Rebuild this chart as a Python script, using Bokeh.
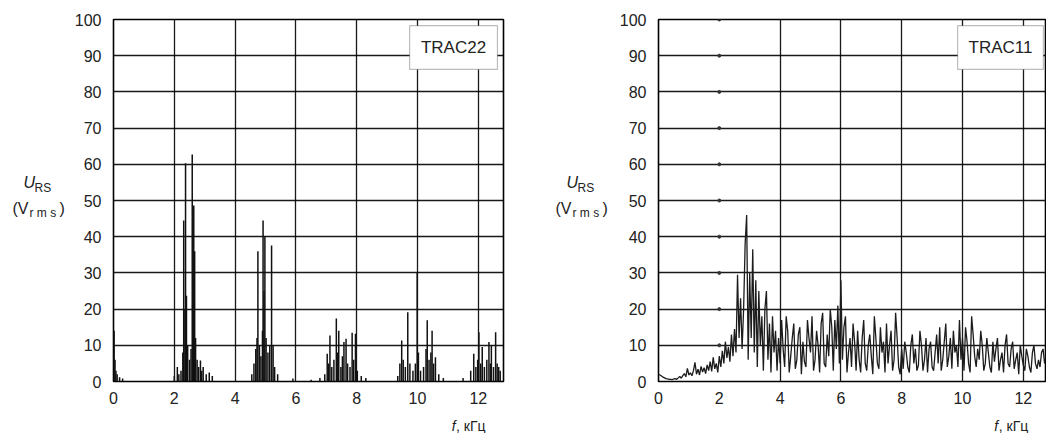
from bokeh.plotting import figure
from bokeh.layouts import row, column
from bokeh.models import Range1d, FixedTicker, Label, BoxAnnotation
from bokeh.core.properties import value
from bokeh.embed import file_html
from bokeh.resources import INLINE

# ---------------- data ----------------
x_ticks = [0, 2, 4, 6, 8, 10, 12]
y_ticks = [0, 10, 20, 30, 40, 50, 60, 70, 80, 90, 100]

# TRAC22: discrete spectral lines (frequency kHz, amplitude V rms)
l_freq = [0.02, 0.05, 0.08, 0.12, 0.20, 0.30,
          2.00, 2.10, 2.15, 2.22, 2.28, 2.31, 2.35, 2.37, 2.40, 2.44, 2.50, 2.55, 2.59, 2.62,
          2.64, 2.67, 2.70, 2.75, 2.80, 2.86, 2.90, 2.95, 3.05, 3.15, 3.25,
          4.55, 4.62, 4.68, 4.72, 4.75, 4.80, 4.85, 4.90, 4.92, 4.95, 4.98, 5.02, 5.08, 5.14,
          5.20, 5.25, 5.30, 5.40,
          5.90, 6.50, 6.79,
          6.95, 7.03, 7.08, 7.12, 7.18, 7.25, 7.33, 7.37, 7.41, 7.48, 7.53, 7.58, 7.65, 7.70,
          7.78, 7.85, 7.90, 7.96, 8.02, 8.15, 8.30,
          9.35, 9.42, 9.48, 9.53, 9.60, 9.68, 9.75, 9.85, 9.93, 9.99, 10.03, 10.10, 10.20,
          10.28, 10.32, 10.38, 10.44, 10.48, 10.53, 10.59, 10.70, 10.85,
          11.50, 11.75, 11.85, 11.92, 11.98, 12.02, 12.08, 12.13, 12.20, 12.28, 12.35, 12.40,
          12.43, 12.50, 12.57, 12.62, 12.67, 12.72]
l_amp = [14.0, 6.0, 3.0, 2.0, 1.2, 0.8,
         1.5, 4.0, 2.0, 3.0, 8.0, 44.5, 20.0, 60.3, 23.7, 10.0, 6.0, 9.0, 62.7, 30.0,
         48.6, 36.0, 12.0, 6.0, 4.0, 5.8, 3.0, 4.0, 2.0, 2.5, 1.5,
         2.0, 5.0, 9.0, 12.0, 36.0, 10.0, 7.0, 14.0, 44.5, 25.0, 40.0, 12.0, 8.0, 10.0,
         37.6, 10.0, 4.0, 2.0,
         0.8, 0.5, 1.0,
         2.0, 7.7, 5.0, 12.7, 4.0, 6.0, 17.4, 8.0, 14.0, 4.0, 7.0, 10.9, 11.8, 5.0,
         4.0, 13.5, 6.0, 13.2, 3.0, 1.5, 1.0,
         1.5, 5.0, 11.3, 6.0, 4.0, 19.1, 5.0, 3.0, 5.0, 30.2, 8.0, 3.0, 4.0,
         9.0, 16.9, 6.0, 8.0, 14.0, 5.0, 6.7, 2.0, 1.0,
         1.0, 3.0, 7.7, 4.0, 6.0, 13.6, 5.0, 9.5, 4.0, 6.0, 10.9, 5.0,
         10.0, 4.0, 13.6, 5.0, 4.0, 3.0]

# TRAC11: continuous noisy spectrum, sampled every 0.05 kHz from 0 kHz
r_step = 0.05
r_amp = [2.0, 1.8, 1.5, 1.2, 1.0, 0.8, 0.7, 0.6, 0.6, 0.5, 0.7,
         0.8, 0.6, 1.0, 1.4, 0.9, 1.6, 2.2, 1.3, 3.6, 1.8,
         2.4, 1.6, 3.0, 5.3, 2.0, 3.4, 1.8, 4.2, 2.6, 3.8,
         2.2, 4.6, 3.0, 5.5, 2.8, 6.7, 3.5, 5.0, 2.5, 7.0,
         4.0, 8.5, 5.0, 11.0, 6.5, 9.5, 5.5, 13.0, 7.0, 14.5,
         8.0, 29.5, 12.0, 23.0, 9.0, 20.0, 38.0, 46.0, 6.0, 30.0,
         12.0, 36.5, 8.0, 28.0, 4.0, 25.0, 10.0, 18.0, 3.0, 20.0,
         25.0, 6.0, 16.0, 2.5, 18.0, 8.0, 14.0, 3.0, 12.0, 5.0,
         17.0, 9.0, 4.0, 18.0, 14.0, 2.5, 7.0, 12.0, 16.0, 3.5,
         6.0, 13.0, 15.0, 2.0, 11.0, 5.5, 4.0, 17.0, 12.0, 8.0,
         18.0, 3.0, 6.0, 14.0, 10.0, 2.5, 16.0, 19.0, 5.0, 4.0,
         13.0, 7.0, 20.0, 15.0, 3.0, 17.0, 9.0, 21.0, 5.0, 28.0,
         6.0, 15.0, 18.0, 2.5, 8.0, 12.0, 4.0, 16.0, 11.0, 3.0,
         14.0, 6.0, 2.5, 12.0, 17.0, 5.0, 3.0, 10.0, 13.0, 7.0,
         2.0, 18.0, 12.0, 5.0, 3.5, 15.0, 8.0, 11.0, 2.5, 16.0,
         5.0, 10.0, 14.0, 3.0, 6.0, 19.0, 12.0, 4.0, 2.0, 9.0,
         3.5, 11.0, 8.0, 4.0, 2.5, 10.0, 13.0, 5.0, 9.0, 3.0,
         4.5, 14.0, 10.0, 3.0, 6.0, 12.0, 2.5, 9.0, 11.0, 4.0,
         3.0, 8.0, 13.0, 5.0, 15.0, 3.0, 6.0, 11.0, 16.0, 4.0,
         7.0, 12.0, 3.5, 14.0, 8.0, 10.0, 4.0, 17.0, 6.0, 12.0,
         3.0, 15.0, 11.0, 5.0, 2.5, 18.0, 13.0, 7.0, 4.0, 9.0,
         6.0, 14.0, 10.0, 3.0, 5.0, 12.0, 8.0, 4.0, 2.5, 11.0,
         5.5, 9.0, 12.0, 3.0, 6.0, 8.0, 2.5, 10.0, 13.0, 5.0,
         4.0, 9.0, 11.0, 3.5, 6.0, 8.0, 2.0, 10.0, 7.0, 4.5,
         3.0, 9.0, 7.0, 4.0, 2.5, 8.0, 10.0, 5.0, 3.5, 6.0,
         4.0, 8.0, 9.0, 5.0, 7.0]
r_freq = [round(i * r_step, 2) for i in range(len(r_amp))]

FONT = "Liberation Sans"
INK = "#222222"
H = 433
P_H = 406          # panel figure height (frame 19..381)
XL_H = H - P_H     # strip below panel for the x-axis caption
PX_PER_KHZ = 30.4


def helper(width, height):
    """Blank figure whose frame fills it, in pixel units with y measured from top."""
    h = figure(width=width, height=height, x_range=Range1d(0, width), y_range=Range1d(height, 0),
               output_backend="svg", toolbar_location=None, min_border=0)
    h.axis.visible = False
    h.grid.visible = False
    h.outline_line_color = None
    h.background_fill_color = "white"
    h.border_fill_color = "white"
    return h


def txt(h, x, y, s, size, italic=False):
    h.text(x=[x], y=[y], text=[s], text_font=value(FONT), text_font_size=size,
           text_font_style="italic" if italic else "normal",
           text_color=INK, text_baseline="alphabetic", text_align="left")


def y_caption(width, ox):
    h = helper(width, H)
    txt(h, ox + 11, 182, "U", "16px", italic=True)
    txt(h, ox + 22, 187, "RS", "12px")
    txt(h, ox + 0, 208, "(V", "16px")
    txt(h, ox + 17, 212, "r m s", "12px")
    txt(h, ox + 47, 208, ")", "16px")
    return h


def x_caption(width, ox):
    h = helper(width, XL_H)
    txt(h, ox, 19, "f", "14px", italic=True)
    txt(h, ox + 5, 19, ", кГц", "14px")
    return h


def make_panel(width, border_left, border_right, grid_x):
    frame_w = width - border_left - border_right
    p = figure(width=width, height=P_H, x_range=Range1d(0, frame_w / PX_PER_KHZ),
               y_range=Range1d(0, 100),
               output_backend="svg", toolbar_location=None,
               min_border_left=border_left, min_border_right=border_right,
               min_border_top=19, min_border_bottom=P_H - 19 - 362)
    p.background_fill_color = "white"
    p.border_fill_color = "white"
    p.outline_line_color = "black"
    p.outline_line_width = 1.6
    for ax in (p.xaxis, p.yaxis):
        ax.axis_line_color = None
        ax.major_tick_line_color = None
        ax.minor_tick_line_color = None
        ax.major_label_text_font = FONT
        ax.major_label_text_font_size = "16px"
        ax.major_label_text_color = INK
    p.xaxis.ticker = FixedTicker(ticks=x_ticks)
    p.yaxis.ticker = FixedTicker(ticks=y_ticks)
    p.xaxis.major_label_standoff = 4
    p.yaxis.major_label_standoff = 6
    p.xgrid.ticker = FixedTicker(ticks=grid_x)
    p.ygrid.ticker = FixedTicker(ticks=y_ticks)
    for g in (p.xgrid, p.ygrid):
        g.grid_line_color = "black"
        g.grid_line_width = 1.3
        g.grid_line_alpha = 0.9
    return p


def trace_box(p, left, right, name):
    p.add_layout(BoxAnnotation(left=left, right=right, bottom=86.2, top=98.3,
                               fill_color="white", fill_alpha=1.0,
                               line_color=INK, line_width=1.2))
    p.add_layout(Label(x=(left + right) / 2, y=92.2, text=name, text_font=FONT,
                       text_font_size="17px", text_color=INK,
                       text_align="center", text_baseline="middle"))


# ---- left block: TRAC22 ----  (x 0..530)
yl1 = y_caption(70, 12)
p1 = make_panel(460, 43, 27, x_ticks)
p1.segment(x0=l_freq, y0=[0] * len(l_freq), x1=l_freq, y1=l_amp,
           line_color="#111111", line_width=1.5)
trace_box(p1, 9.74, 12.63, "TRAC22")
xl1 = x_caption(460, 399)

# ---- right block: TRAC11 ----  (x 530..1046)
yl2 = y_caption(85, 25)
p2 = make_panel(431, 43, 1, [4, 6, 8, 10, 12])
p2.scatter(x=[2] * 10, y=y_ticks[1:], marker="circle", size=3, color="#333333")
p2.line(r_freq, r_amp, line_color="#1c1c1c", line_width=1.3)
trace_box(p2, 9.84, 12.66, "TRAC11")
xl2 = x_caption(431, 374)

layout = row(yl1, column(p1, xl1), yl2, column(p2, xl2))
open("out.html", "w").write(file_html(layout, INLINE))
